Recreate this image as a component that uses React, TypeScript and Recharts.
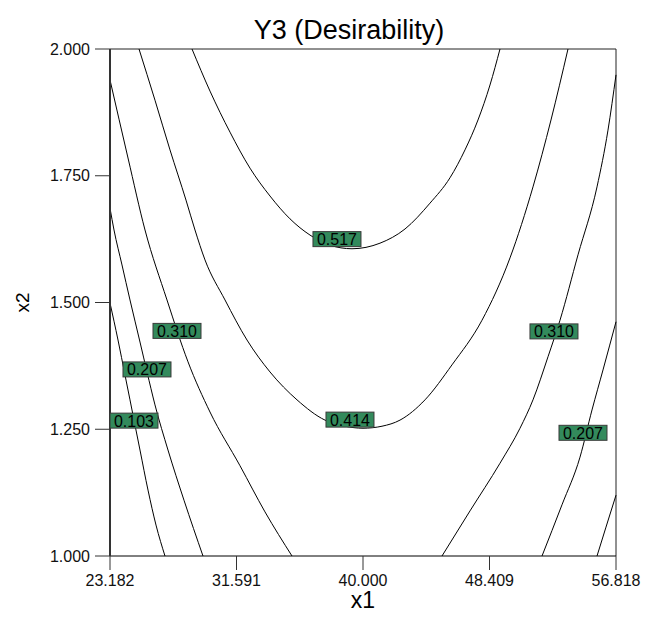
import React from "react";
import {
  ComposedChart,
  Line,
  Scatter,
  XAxis,
  YAxis,
  ReferenceLine,
} from "recharts";

const FONT = "'Liberation Sans', Arial, Helvetica, sans-serif";

const xTicks = [23.182, 31.591, 40.0, 48.409, 56.818];
const yTicks = [1.0, 1.25, 1.5, 1.75, 2.0];

// contour lines (x1, x2)
const c103Left = [
  { x: 23.182, y: 1.499 },
  { x: 23.714, y: 1.426 },
  { x: 24.179, y: 1.357 },
  { x: 24.511, y: 1.308 },
  { x: 24.844, y: 1.258 },
  { x: 25.176, y: 1.209 },
  { x: 25.708, y: 1.13 },
  { x: 26.24, y: 1.061 },
  { x: 26.838, y: 1.0 },
];
const c207Left = [
  { x: 23.182, y: 1.686 },
  { x: 23.448, y: 1.643 },
  { x: 23.98, y: 1.574 },
  { x: 24.511, y: 1.505 },
  { x: 25.176, y: 1.422 },
  { x: 25.642, y: 1.363 },
  { x: 26.173, y: 1.298 },
  { x: 27.037, y: 1.209 },
  { x: 28.101, y: 1.11 },
  { x: 29.364, y: 1.0 },
];
const c310Left = [
  { x: 23.182, y: 1.939 },
  { x: 24.379, y: 1.785 },
  { x: 25.509, y: 1.643 },
  { x: 26.971, y: 1.505 },
  { x: 28.367, y: 1.383 },
  { x: 29.829, y: 1.284 },
  { x: 31.824, y: 1.178 },
  { x: 33.485, y: 1.087 },
  { x: 35.28, y: 1.0 },
];
const c414 = [
  { x: 25.11, y: 2.0 },
  { x: 26.173, y: 1.899 },
  { x: 27.17, y: 1.801 },
  { x: 28.234, y: 1.702 },
  { x: 28.832, y: 1.643 },
  { x: 29.497, y: 1.584 },
  { x: 30.827, y: 1.505 },
  { x: 32.289, y: 1.426 },
  { x: 33.818, y: 1.363 },
  { x: 35.613, y: 1.308 },
  { x: 37.474, y: 1.268 },
  { x: 38.803, y: 1.256 },
  { x: 40.0, y: 1.252 },
  { x: 41.263, y: 1.256 },
  { x: 42.459, y: 1.268 },
  { x: 44.121, y: 1.308 },
  { x: 45.916, y: 1.377 },
  { x: 47.91, y: 1.465 },
  { x: 49.772, y: 1.588 },
  { x: 51.3, y: 1.728 },
  { x: 52.497, y: 1.86 },
  { x: 53.627, y: 2.0 },
];
const c517 = [
  { x: 28.633, y: 2.0 },
  { x: 29.829, y: 1.917 },
  { x: 31.159, y: 1.836 },
  { x: 32.488, y: 1.765 },
  { x: 33.818, y: 1.71 },
  { x: 35.147, y: 1.665 },
  { x: 36.477, y: 1.633 },
  { x: 37.806, y: 1.613 },
  { x: 39.269, y: 1.606 },
  { x: 41.13, y: 1.617 },
  { x: 42.792, y: 1.645 },
  { x: 44.454, y: 1.696 },
  { x: 45.783, y: 1.746 },
  { x: 46.78, y: 1.801 },
  { x: 47.644, y: 1.86 },
  { x: 48.442, y: 1.929 },
  { x: 49.107, y: 2.0 },
];
const c310Right = [
  { x: 45.251, y: 1.0 },
  { x: 47.113, y: 1.089 },
  { x: 49.107, y: 1.183 },
  { x: 50.436, y: 1.252 },
  { x: 51.3, y: 1.308 },
  { x: 52.298, y: 1.393 },
  { x: 53.095, y: 1.465 },
  { x: 54.292, y: 1.594 },
  { x: 55.555, y: 1.728 },
  { x: 56.286, y: 1.84 },
  { x: 56.818, y: 1.949 },
];
const c207Right = [
  { x: 51.899, y: 1.0 },
  { x: 53.228, y: 1.101 },
  { x: 54.425, y: 1.195 },
  { x: 55.222, y: 1.288 },
  { x: 55.954, y: 1.367 },
  { x: 56.818, y: 1.462 },
];
const c103Right = [
  { x: 55.555, y: 1.0 },
  { x: 56.153, y: 1.057 },
  { x: 56.818, y: 1.12 },
];

const contours = [c103Left, c207Left, c310Left, c414, c517, c310Right, c207Right, c103Right];

const levelLabels = [
  { x: 38.27, y: 1.625, label: "0.517" },
  { x: 39.135, y: 1.269, label: "0.414" },
  { x: 27.636, y: 1.444, label: "0.310" },
  { x: 25.641, y: 1.368, label: "0.207" },
  { x: 24.777, y: 1.267, label: "0.103" },
  { x: 52.695, y: 1.443, label: "0.310" },
  { x: 54.624, y: 1.243, label: "0.207" },
];

const LevelBox = (props: any) => {
  const { cx, cy, payload } = props;
  if (cx == null || cy == null) return null;
  return (
    <g>
      <rect x={cx - 24} y={cy - 7.5} width={48} height={15} fill="#338a5c" stroke="#3a3a3a" strokeWidth={1} />
      <text x={cx} y={cy + 6} textAnchor="middle" fontSize={16} fontFamily={FONT} fill="#000">
        {payload.label}
      </text>
    </g>
  );
};

const XTitle = (props: any) => {
  const { viewBox } = props;
  return (
    <text x={viewBox.x + viewBox.width / 2} y={608} textAnchor="middle" fontSize={23} fontFamily={FONT} fill="#000">
      x1
    </text>
  );
};

const YTitle = (props: any) => {
  const { viewBox } = props;
  const cy = viewBox.y + viewBox.height / 2;
  return (
    <text
      x={29}
      y={cy}
      textAnchor="middle"
      fontSize={19}
      fontFamily={FONT}
      fill="#000"
      transform={`rotate(-90, 29, ${cy})`}
    >
      x2
    </text>
  );
};

export default function App() {
  return (
    <div style={{ position: "absolute", left: 0, top: 0, width: 646, height: 626, background: "#fff" }}>
      <div
        style={{
          position: "absolute",
          left: 199,
          top: 14,
          width: 300,
          textAlign: "center",
          fontFamily: FONT,
          fontSize: 27,
          lineHeight: "32px",
          color: "#000",
        }}
      >
        Y3 (Desirability)
      </div>
      <ComposedChart width={646} height={626} margin={{ top: 49, right: 30, bottom: 0, left: 0 }}>
        <XAxis
          type="number"
          dataKey="x"
          domain={[23.182, 56.818]}
          ticks={xTicks}
          interval={0}
          tickFormatter={(v: number) => v.toFixed(3)}
          height={70}
          tickSize={14}
          tickMargin={5}
          axisLine={{ stroke: "#000", strokeWidth: 1 }}
          tickLine={{ stroke: "#333", strokeWidth: 1 }}
          tick={{ fontSize: 16, fill: "#111", fontFamily: FONT }}
          label={{ content: <XTitle /> }}
        />
        <YAxis
          type="number"
          dataKey="y"
          domain={[1, 2]}
          ticks={yTicks}
          interval={0}
          tickFormatter={(v: number) => v.toFixed(3)}
          width={110}
          tickSize={15}
          tickMargin={5}
          axisLine={{ stroke: "#333", strokeWidth: 2 }}
          tickLine={{ stroke: "#333", strokeWidth: 1 }}
          tick={{ fontSize: 16, fill: "#111", fontFamily: FONT }}
          label={{ content: <YTitle /> }}
        />
        <ReferenceLine y={2} stroke="#222" strokeWidth={1} />
        <ReferenceLine x={56.818} stroke="#222" strokeWidth={1} />
        {contours.map((c, i) => (
          <Line
            key={i}
            data={c}
            dataKey="y"
            type="monotone"
            stroke="#000"
            strokeWidth={1}
            dot={false}
            activeDot={false}
            isAnimationActive={false}
          />
        ))}
        <Scatter data={levelLabels} dataKey="y" shape={<LevelBox />} isAnimationActive={false} />
      </ComposedChart>
    </div>
  );
}
